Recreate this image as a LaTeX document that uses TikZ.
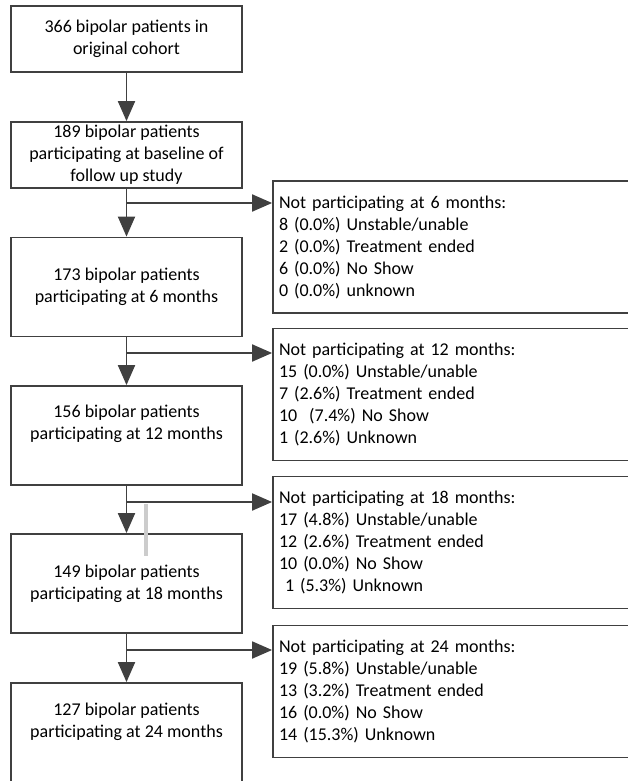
\documentclass[tikz,border=0pt]{standalone}
\usepackage{fontspec}
\setmainfont{Carlito}
\usetikzlibrary{arrows.meta}
\definecolor{linegray}{RGB}{64,64,64}

\tikzset{
  leftbox/.style={draw=linegray,line width=1.8pt,minimum width=231pt,inner sep=0pt},
  rightbox/.style={draw=linegray,line width=1.8pt,minimum width=359pt,minimum height=132pt,
    text width=347pt,align=left,inner sep=6pt,font=\fontsize{18}{22}\selectfont},
  boxtext/.style={align=center,inner sep=0pt,font=\fontsize{18}{22}\selectfont},
  flow/.style={draw=linegray,line width=1.9pt,-{Triangle[length=20pt,width=17pt]}}
}

\begin{document}
\begin{tikzpicture}[x=1pt,y=-1pt]
  \useasboundingbox (0,0) rectangle (628,781);
  % left column
  \node[leftbox,minimum height=66pt,boxtext] (cohort) at (126.5,39) {366 bipolar patients in\\original cohort};
  \node[leftbox,minimum height=66pt,boxtext] (base) at (126.5,155) {189 bipolar patients\\participating at baseline of\\follow up study};
  \node[leftbox,minimum height=99pt,boxtext] (m6) at (126.5,287) {173 bipolar patients\\participating at 6 months};
  \node[leftbox,minimum height=99pt] (m12) at (126.5,435.5) {};
  \node[leftbox,minimum height=99pt,boxtext] (m18) at (126.5,583.5) {149 bipolar patients\\participating at 18 months};
  \node[leftbox,minimum height=100pt] (m24) at (126.5,733) {};
  \node[boxtext] (m12t) at ([yshift=11.5pt]m12.center) {156 bipolar patients\\participating at 12 months};
  \node[boxtext] (m24t) at ([yshift=11.5pt]m24.center) {127 bipolar patients\\participating at 24 months};

  % right column
  \node[rightbox] (d6) at (452.5,247) {Not participating at 6 months:\\8 (0.0\%) Unstable/unable\\2 (0.0\%) Treatment ended\\6 (0.0\%) No Show\\0 (0.0\%) unknown};
  \node[rightbox] (d12) at (452.5,394.5) {Not participating at 12 months:\\15 (0.0\%) Unstable/unable\\7 (2.6\%) Treatment ended\\10~ (7.4\%) No Show\\1 (2.6\%) Unknown};
  \node[rightbox] (d18) at (452.5,542.5) {Not participating at 18 months:\\17 (4.8\%) Unstable/unable\\12 (2.6\%) Treatment ended\\10 (0.0\%) No Show\\~1 (5.3\%) Unknown};
  \node[rightbox] (d24) at (452.5,691.5) {Not participating at 24 months:\\19 (5.8\%) Unstable/unable\\13 (3.2\%) Treatment ended\\16 (0.0\%) No Show\\14 (15.3\%) Unknown};

  % branch points
  \coordinate (j6) at (126.5,203);
  \coordinate (j12) at (126.5,353);
  \coordinate (j18) at (126.5,502);
  \coordinate (j24) at (126.5,650);

  \draw[flow] (cohort) -- (base);
  \draw[flow] (base) -- (m6);
  \draw[flow] (m6) -- (m12);
  \draw[flow] (m12) -- (m18);
  \draw[flow] (m18) -- (m24);
  \draw[flow] (j6) -- (j6 -| d6.west);
  \draw[flow] (j12) -- (j12 -| d12.west);
  \draw[flow] (j18) -- (j18 -| d18.west);
  \draw[flow] (j24) -- (j24 -| d24.west);

  \draw[gray!40,line width=3.5pt] (146,504) -- (146,556);
\end{tikzpicture}
\end{document}
